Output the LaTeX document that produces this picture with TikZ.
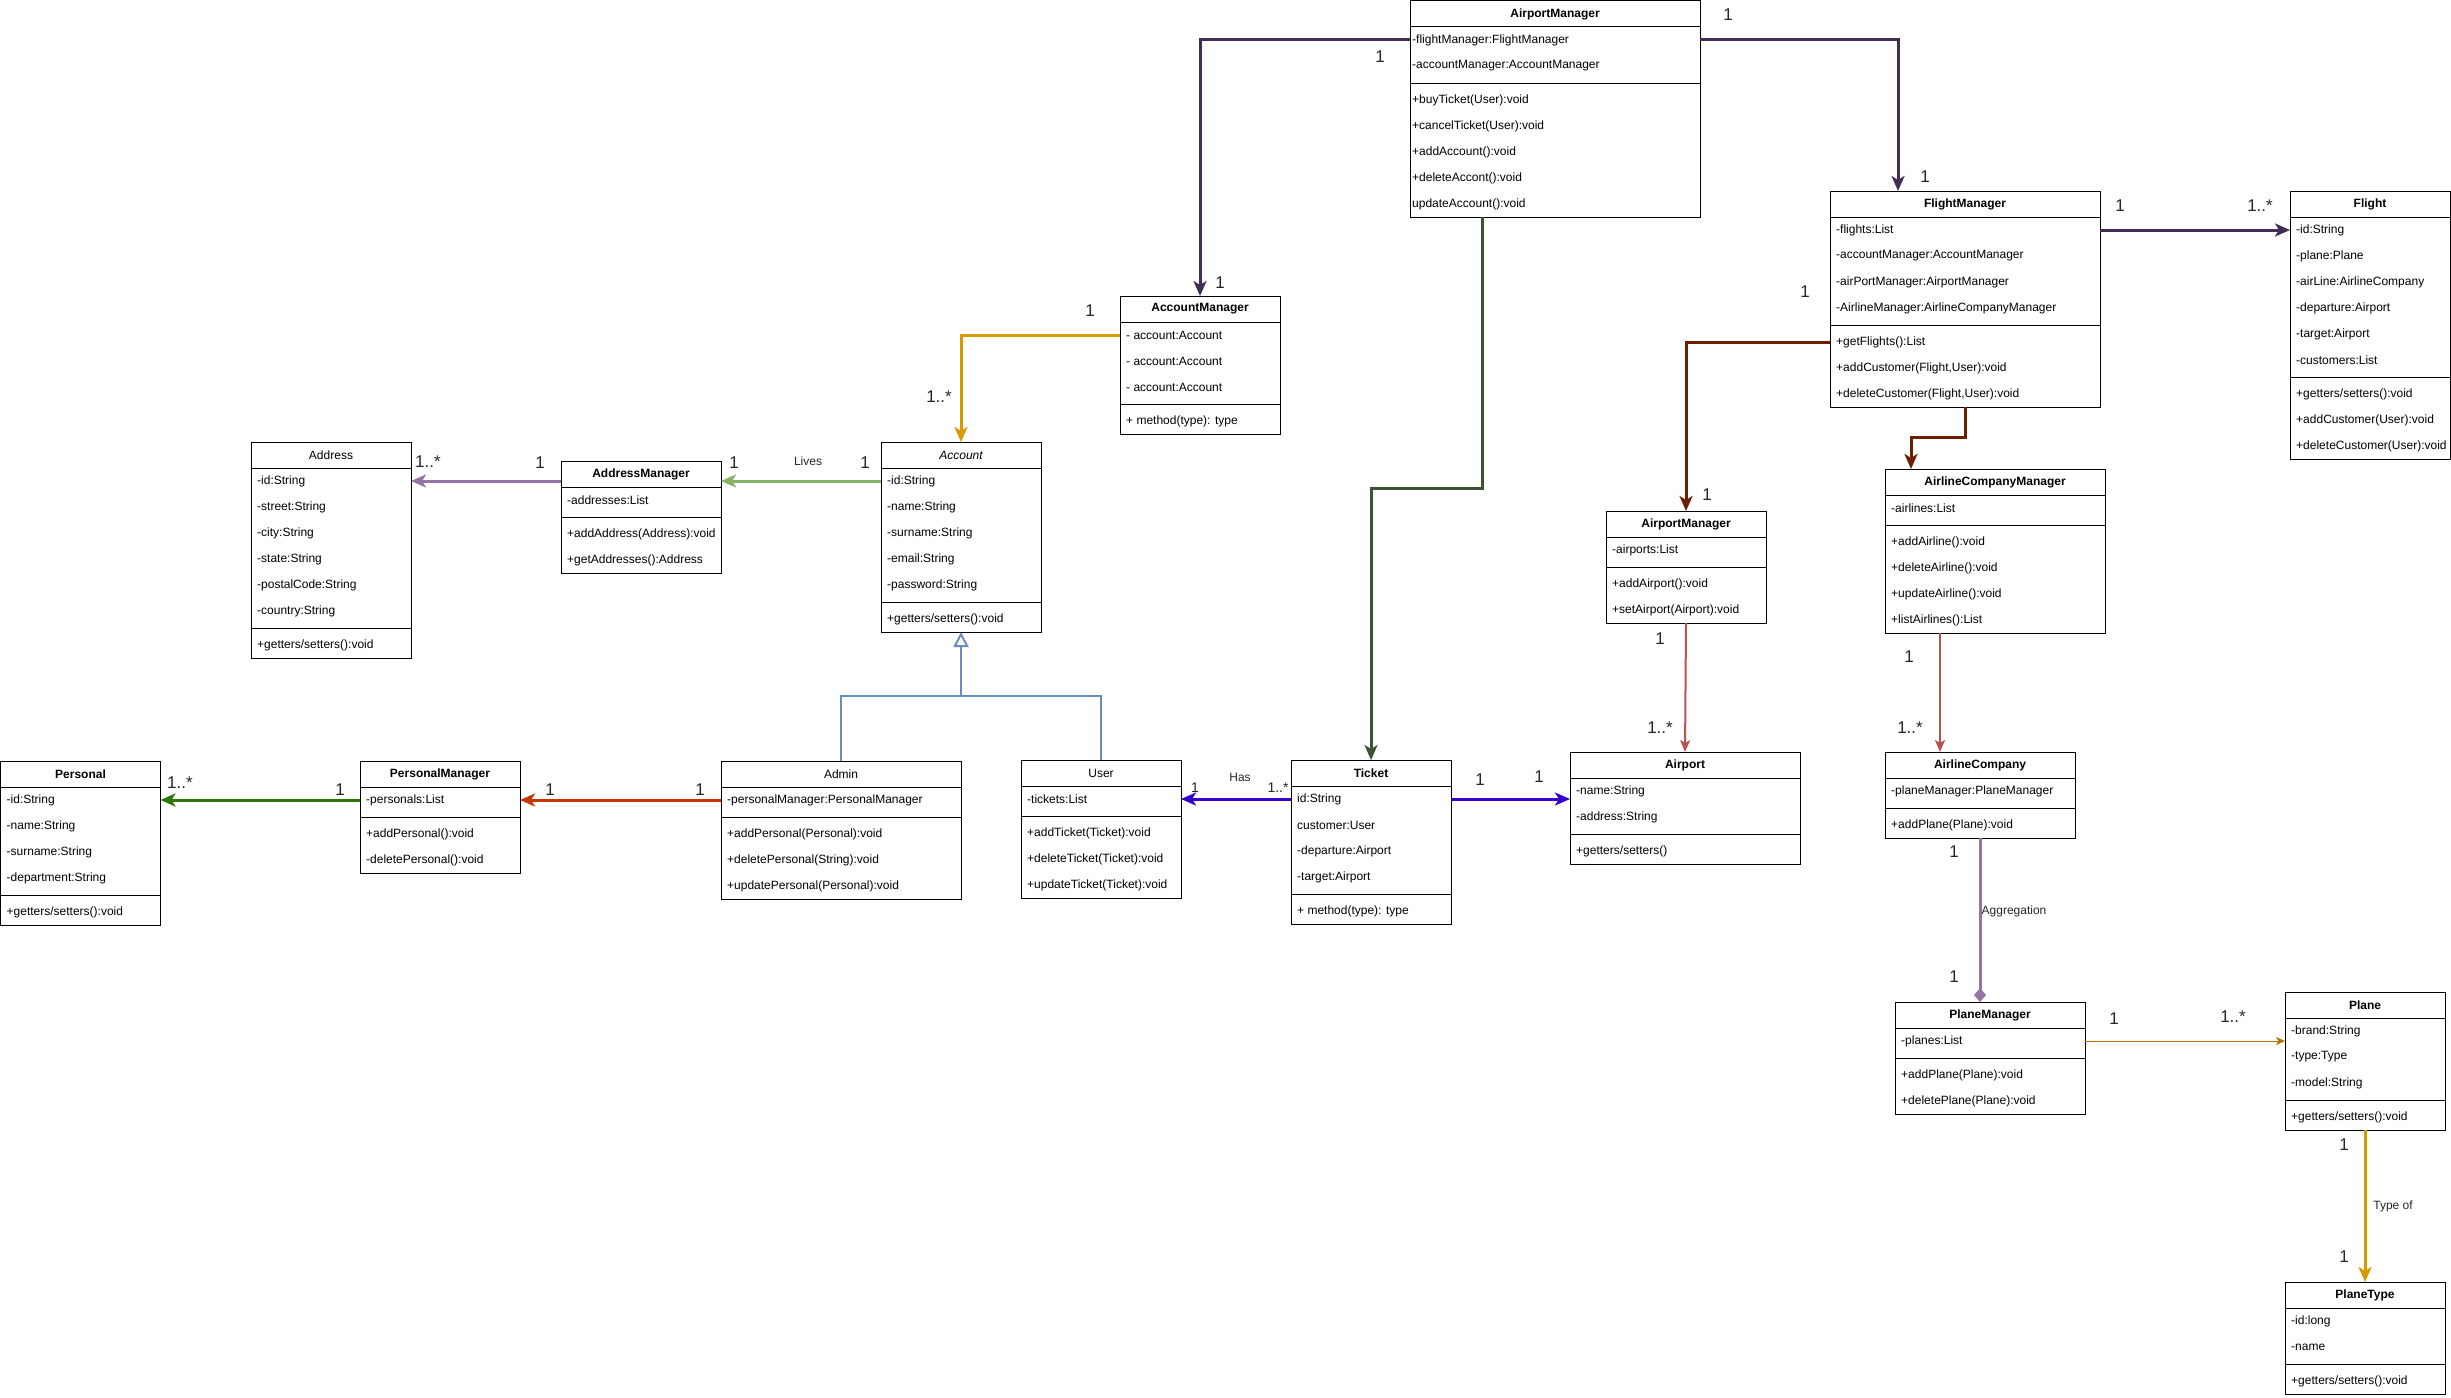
\documentclass[tikz,border=0pt]{standalone}
\usepackage{fontspec}
\setmainfont{Liberation Sans}
\usetikzlibrary{arrows.meta}
\definecolor{cDP}{HTML}{432D57}
\definecolor{cDG}{HTML}{3A5431}
\definecolor{cOR}{HTML}{D79B00}
\definecolor{cGR}{HTML}{82B366}
\definecolor{cPU}{HTML}{9673A6}
\definecolor{cBL}{HTML}{6C8EBF}
\definecolor{cRO}{HTML}{C73500}
\definecolor{cG2}{HTML}{2D7600}
\definecolor{cVI}{HTML}{3700CC}
\definecolor{cDR}{HTML}{6D1F00}
\definecolor{cRD}{HTML}{B85450}
\definecolor{cAM}{HTML}{BD7000}
\def\rowpad{6}
\newcommand{\umlclass}[9]{%
  \pgfmathsetmacro{\hgt}{26+26*#6+8+26*#8}%
  \node[classbox, minimum width=#4pt, minimum height=\hgt pt] (#1) at (#2,#3) {};
  \node[titletext] (#1-t) at ({#2+#4/2},{#3+13}) {#5};
  \draw[sepline] (#2,{#3+26}) -- ++(#4,0);
  \foreach \rowtxt [count=\i] in {#7} {\node[rowtext] (#1-a\i) at ({#2+\rowpad},{#3+13+26*(\i-1)+26}) {\rowtxt};}
  \draw[sepline] (#2,{#3+26+26*#6+4}) -- ++(#4,0);
  \foreach \rowtxt [count=\i] in {#9} {\node[rowtext] (#1-m\i) at ({#2+\rowpad},{#3+26*#6+8+13+26*\i}) {\rowtxt};}
}
\begin{document}
\begin{tikzpicture}[x=1pt,y=-1pt,
  classbox/.style={draw=black, line width=1pt, fill=white, anchor=north west, inner sep=0pt, outer sep=0pt},
  titletext/.style={font=\fontsize{12}{14}\selectfont, inner sep=0pt},
  rowtext/.style={font=\fontsize{12}{14}\selectfont, anchor=west, inner sep=0pt},
  sepline/.style={line width=1pt, draw=black},
  assoc/.style={line width=3pt, -{Stealth[length=15pt,width=13pt,inset=4pt]}},
  medassoc/.style={line width=2pt, -{Stealth[length=12pt,width=10pt,inset=3pt]}},
  thinassoc/.style={line width=1pt, -{Stealth[length=9pt,width=8pt,inset=2.5pt]}},
  lab/.style={font=\fontsize{17}{20}\selectfont, text=black!85, inner sep=0pt},
  labs/.style={font=\fontsize{14}{16}\selectfont, text=black!85, inner sep=0pt},
  labt/.style={font=\fontsize{12}{14}\selectfont, text=black!85, inner sep=0pt}
]
\fill[white] (0,0) rectangle (2451,1397);
\useasboundingbox (0,0) rectangle (2451,1397);

% ---------- classes ----------
\def\rowpad{2}
\umlclass{AM}{1410}{1}{290}{{\bfseries AirportManager}}{2}{-flightManager:FlightManager,-accountManager:AccountManager}{5}{+buyTicket(User):void,+cancelTicket(User):void,+addAccount():void,+deleteAccont():void,updateAccount():void}
\def\rowpad{6}
\umlclass{AcM}{1120}{296}{160}{{\bfseries AccountManager}}{3}{- account:Account,- account:Account,- account:Account}{1}{+ method(type): type}
\umlclass{FM}{1830}{191}{270}{{\bfseries FlightManager}}{4}{-flights:List,-accountManager:AccountManager,-airPortManager:AirportManager,-AirlineManager:AirlineCompanyManager}{3}{+getFlights():List,{+addCustomer(Flight,User):void},{+deleteCustomer(Flight,User):void}}
\umlclass{Fl}{2290}{191}{160}{{\bfseries Flight}}{6}{-id:String,-plane:Plane,-airLine:AirlineCompany,-departure:Airport,-target:Airport,-customers:List}{3}{+getters/setters():void,+addCustomer(User):void,+deleteCustomer(User):void}
\umlclass{ACM}{1885}{469}{220}{{\bfseries AirlineCompanyManager}}{1}{-airlines:List}{4}{+addAirline():void,+deleteAirline():void,+updateAirline():void,+listAirlines():List}
\umlclass{APM}{1606}{511}{160}{{\bfseries AirportManager}}{1}{-airports:List}{2}{+addAirport():void,+setAirport(Airport):void}
\umlclass{Addr}{251}{442}{160}{Address}{6}{-id:String,-street:String,-city:String,-state:String,-postalCode:String,-country:String}{1}{+getters/setters():void}
\umlclass{AdM}{561}{461}{160}{{\bfseries AddressManager}}{1}{-addresses:List}{2}{+addAddress(Address):void,+getAddresses():Address}
\umlclass{Acc}{881}{442}{160}{{\itshape Account}}{5}{-id:String,-name:String,-surname:String,-email:String,-password:String}{1}{+getters/setters():void}
\umlclass{Pers}{0.5}{761}{160}{{\bfseries Personal}}{4}{-id:String,-name:String,-surname:String,-department:String}{1}{+getters/setters():void}
\umlclass{PM}{360}{761}{160}{{\bfseries PersonalManager}}{1}{-personals:List}{2}{+addPersonal():void,-deletePersonal():void}
\umlclass{Adm}{721}{761}{240}{Admin}{1}{-personalManager:PersonalManager}{3}{+addPersonal(Personal):void,+deletePersonal(String):void,+updatePersonal(Personal):void}
\umlclass{Usr}{1021}{760}{160}{User}{1}{-tickets:List}{3}{+addTicket(Ticket):void,+deleteTicket(Ticket):void,+updateTicket(Ticket):void}
\umlclass{Tk}{1291}{760}{160}{{\bfseries Ticket}}{4}{id:String,customer:User,-departure:Airport,-target:Airport}{1}{+ method(type): type}
\umlclass{Ap}{1570}{752}{230}{{\bfseries Airport}}{2}{-name:String,-address:String}{1}{+getters/setters()}
\umlclass{AC}{1885}{752}{190}{{\bfseries AirlineCompany}}{1}{-planeManager:PlaneManager}{1}{+addPlane(Plane):void}
\umlclass{PlM}{1895}{1002}{190}{{\bfseries PlaneManager}}{1}{-planes:List}{2}{+addPlane(Plane):void,+deletePlane(Plane):void}
\umlclass{Pl}{2285}{992}{160}{{\bfseries Plane}}{3}{-brand:String,-type:Type,-model:String}{1}{+getters/setters():void}
\umlclass{PT}{2285}{1282}{160}{{\bfseries PlaneType}}{2}{-id:long,-name}{1}{+getters/setters():void}

% ---------- connectors ----------
\draw[assoc, cDP] (AM-a1 -| AM.west) -| (AcM.north);
\draw[assoc, cDP] (AM-a1 -| AM.east) -| ([xshift=68pt]FM.north west);
\draw[assoc, cDG] ([xshift=72pt]AM.south west) -- ++(0,271) -| (Tk.north);
\draw[assoc, cOR] (AcM-a1 -| AcM.west) -| (Acc.north);
\draw[assoc, cGR] (Acc-a1 -| Acc.west) -- (Acc-a1 -| AdM.east);
\draw[assoc, cPU] (Acc-a1 -| AdM.west) -- (Acc-a1 -| Addr.east);
\coordinate (gj) at ([yshift=-64pt]Acc.south);
\draw[line width=2pt, cBL] (Adm.north) |- (gj) -| (Usr.north);
\draw[line width=2pt, cBL, -{Triangle[open, length=15pt, width=15pt]}] (gj) -- (Acc.south);
\draw[assoc, cRO] (Adm-a1 -| Adm.west) -- (Adm-a1 -| PM.east);
\draw[assoc, cG2] (PM-a1 -| PM.west) -- (PM-a1 -| Pers.east);
\draw[assoc, cVI] (Tk-a1 -| Tk.west) -- (Tk-a1 -| Usr.east);
\draw[assoc, cVI] (Tk-a1 -| Tk.east) -- (Tk-a1 -| Ap.west);
\draw[assoc, cDR] (FM-m1 -| FM.west) -| (APM.north);
\draw[assoc, cDR] (FM.south) -- ++(0,30) -| ([xshift=26pt]ACM.north west);
\draw[assoc, cDP] (FM-a1 -| FM.east) -- (FM-a1 -| Fl.west);
\draw[medassoc, cRD] (APM.south) -- (Ap.north);
\draw[medassoc, cRD] ([xshift=55pt]ACM.south west) -- ([xshift=55pt]AC.north west);
\draw[line width=3pt, cPU, -{Diamond[length=14pt,width=12pt]}] (AC.south) -- (AC.south |- PlM.north);
\draw[thinassoc, cAM] (PlM-a1 -| PlM.east) -- (PlM-a1 -| Pl.west);
\draw[assoc, cOR] (Pl.south) -- (PT.north);

% ---------- labels ----------
\node[lab] (l1) at (1380,57) {1};
\node[lab] (l2) at (1220,283) {1};
\node[lab] (l3) at (1728,15) {1};
\node[lab] (l4) at (1925,177) {1};
\node[lab] (l5) at (2120,206) {1};
\node[lab] (l6) at (2260,206) {1..*};
\node[lab] (l7) at (1805,292) {1};
\node[lab] (l8) at (1707,495) {1};
\node[lab] (l9) at (1660,639) {1};
\node[lab] (l10) at (1660,728) {1..*};
\node[lab] (l11) at (1909,657) {1};
\node[lab] (l12) at (1910,728) {1..*};
\node[lab] (l13) at (1954,852) {1};
\node[lab] (l14) at (1954,977) {1};
\node[labt] (l15) at (2014,911) {Aggregation};
\node[lab] (l16) at (2114,1019) {1};
\node[lab] (l17) at (2233,1017) {1..*};
\node[lab] (l18) at (2344,1145) {1};
\node[lab] (l19) at (2344,1257) {1};
\node[labt] (l20) at (2393,1206) {Type of};
\node[lab] (l21) at (1090,311) {1};
\node[lab] (l22) at (939,397) {1..*};
\node[labt] (l23) at (808,461) {Lives};
\node[lab] (l24) at (865,463) {1};
\node[lab] (l25) at (734,463) {1};
\node[lab] (l26) at (540,463) {1};
\node[lab] (l27) at (428,462) {1..*};
\node[lab] (l28) at (700,790) {1};
\node[lab] (l29) at (550,790) {1};
\node[lab] (l30) at (340,790) {1};
\node[lab] (l31) at (180,783) {1..*};
\node[labt] (l32) at (1240,777) {Has};
\node[labs] (l33) at (1195,788) {1};
\node[labs] (l34) at (1278,788) {1..*};
\node[lab] (l35) at (1480,780) {1};
\node[lab] (l36) at (1539,777) {1};
\end{tikzpicture}
\end{document}
